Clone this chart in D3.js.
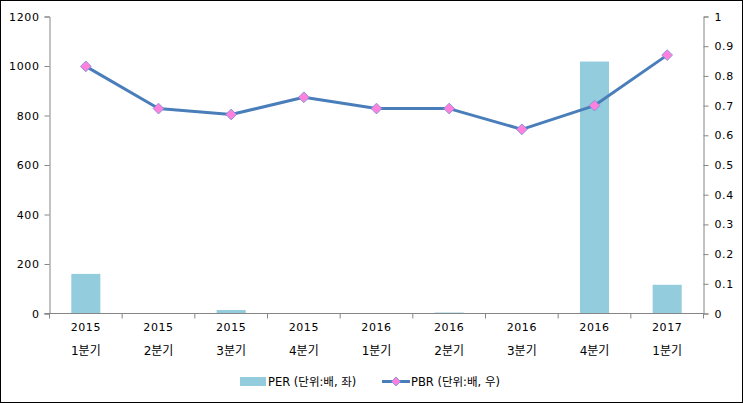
<!DOCTYPE html>
<html>
<head>
<meta charset="utf-8">
<script src="https://cdn.jsdelivr.net/npm/d3@7"></script>
<style>
  html, body { margin: 0; padding: 0; background: #fff; }
  svg { display: block; font-family: "DejaVu Sans", "Noto Sans CJK KR", sans-serif; }
</style>
</head>
<body>
<svg id="chart" width="743" height="403"></svg>
<script>
// Categories and series
const years = ["2015", "2015", "2015", "2015", "2016", "2016", "2016", "2016", "2017"];
const quarters = ["1분기", "2분기", "3분기", "4분기", "1분기", "2분기", "3분기", "4분기", "1분기"];
const perValues = [160, 0, 14, 0, 0, 4, 0, 1018, 116];
const pbrValues = [0.832, 0.69, 0.67, 0.728, 0.69, 0.69, 0.62, 0.70, 0.87];
const leftTicks = [0, 200, 400, 600, 800, 1000, 1200];
const rightTicks = [0, 0.1, 0.2, 0.3, 0.4, 0.5, 0.6, 0.7, 0.8, 0.9, 1];

const svg = d3.select("#chart");
const W = 743, H = 403;
const m = { left: 49.5, right: 703.5, top: 16.5, bottom: 313.5 };

// Outer frame
svg.append("rect")
  .attr("x", 0.5).attr("y", 0.5)
  .attr("width", W - 1).attr("height", H - 1)
  .attr("fill", "#fff").attr("stroke", "#000");

const idx = d3.range(years.length);
const x = d3.scaleBand().domain(idx).range([m.left, m.right]).paddingInner(0).paddingOuter(0);
const yL = d3.scaleLinear().domain([0, 1200]).range([m.bottom, m.top]);
const yR = d3.scaleLinear().domain([0, 1]).range([m.bottom, m.top]);

const axisColor = "#868686";
const textColor = "#000";

// Bars (PER)
const barW = x.bandwidth() * 0.4;
svg.append("g").selectAll("rect")
  .data(perValues)
  .enter().append("rect")
  .attr("x", (d, i) => x(i) + (x.bandwidth() - barW) / 2)
  .attr("y", d => yL(d))
  .attr("width", barW)
  .attr("height", d => m.bottom - yL(d))
  .attr("fill", "#93CDDD");

// Left axis
const gL = svg.append("g").attr("transform", `translate(${m.left},0)`)
  .call(d3.axisLeft(yL).tickValues(leftTicks).tickSize(5).tickPadding(5).tickFormat(d3.format("d")));
// Right axis
const gR = svg.append("g").attr("transform", `translate(${m.right},0)`)
  .call(d3.axisRight(yR).tickValues(rightTicks).tickSize(5).tickPadding(6).tickFormat(d => d === 0 || d === 1 ? String(d) : d3.format(".1f")(d)));

[gL, gR].forEach(g => {
  g.select(".domain").attr("stroke", axisColor);
  g.selectAll(".tick line").attr("stroke", axisColor);
  g.selectAll(".tick text").attr("fill", textColor).attr("font-size", 11)
    .attr("font-family", "DejaVu Sans").attr("letter-spacing", 0.6);
});

// Bottom axis line and category boundary ticks
svg.append("line")
  .attr("x1", m.left - 5).attr("x2", m.right)
  .attr("y1", m.bottom).attr("y2", m.bottom)
  .attr("stroke", axisColor);
svg.append("g").selectAll("line")
  .data(d3.range(years.length + 1))
  .enter().append("line")
  .attr("x1", i => i < years.length ? x(i) : m.right)
  .attr("x2", i => i < years.length ? x(i) : m.right)
  .attr("y1", m.bottom).attr("y2", m.bottom + 5)
  .attr("stroke", axisColor);

// Category labels (two lines)
const lab = svg.append("g").selectAll("g")
  .data(idx)
  .enter().append("g")
  .attr("transform", i => `translate(${x(i) + x.bandwidth() / 2},0)`);
lab.append("text")
  .attr("y", 331).attr("text-anchor", "middle")
  .attr("font-size", 11).attr("fill", textColor).attr("letter-spacing", 0.6)
  .text(i => years[i]);
lab.append("text")
  .attr("y", 355).attr("text-anchor", "middle")
  .attr("font-size", 12).attr("fill", textColor)
  .text(i => quarters[i]);

// PBR line
const line = d3.line()
  .x((d, i) => x(i) + x.bandwidth() / 2)
  .y(d => yR(d));
svg.append("path")
  .datum(pbrValues)
  .attr("d", line)
  .attr("fill", "none")
  .attr("stroke", "#4A7EBB")
  .attr("stroke-width", 3)
  .attr("stroke-linejoin", "round");

svg.append("g").selectAll("path")
  .data(pbrValues)
  .enter().append("path")
  .attr("transform", (d, i) => `translate(${x(i) + x.bandwidth() / 2},${yR(d)}) rotate(45)`)
  .attr("d", d3.symbol().type(d3.symbolSquare).size(58))
  .attr("fill", "#FF80DD")
  .attr("stroke", "#7A8FD8")
  .attr("stroke-width", 0.8);

// Legend
const leg = svg.append("g");
leg.append("rect")
  .attr("x", 240).attr("y", 377).attr("width", 26).attr("height", 9)
  .attr("fill", "#93CDDD");
leg.append("text")
  .attr("x", 268).attr("y", 386)
  .attr("font-size", 11.5).attr("fill", textColor)
  .text("PER (단위:배, 좌)");
leg.append("line")
  .attr("x1", 382).attr("x2", 410).attr("y1", 381.5).attr("y2", 381.5)
  .attr("stroke", "#4A7EBB").attr("stroke-width", 3);
leg.append("path")
  .attr("transform", "translate(396,381.5) rotate(45)")
  .attr("d", d3.symbol().type(d3.symbolSquare).size(40))
  .attr("fill", "#FF80DD").attr("stroke", "#7A8FD8").attr("stroke-width", 0.8);
leg.append("text")
  .attr("x", 411).attr("y", 386)
  .attr("font-size", 11.5).attr("fill", textColor)
  .text("PBR (단위:배, 우)");
</script>
</body>
</html>
